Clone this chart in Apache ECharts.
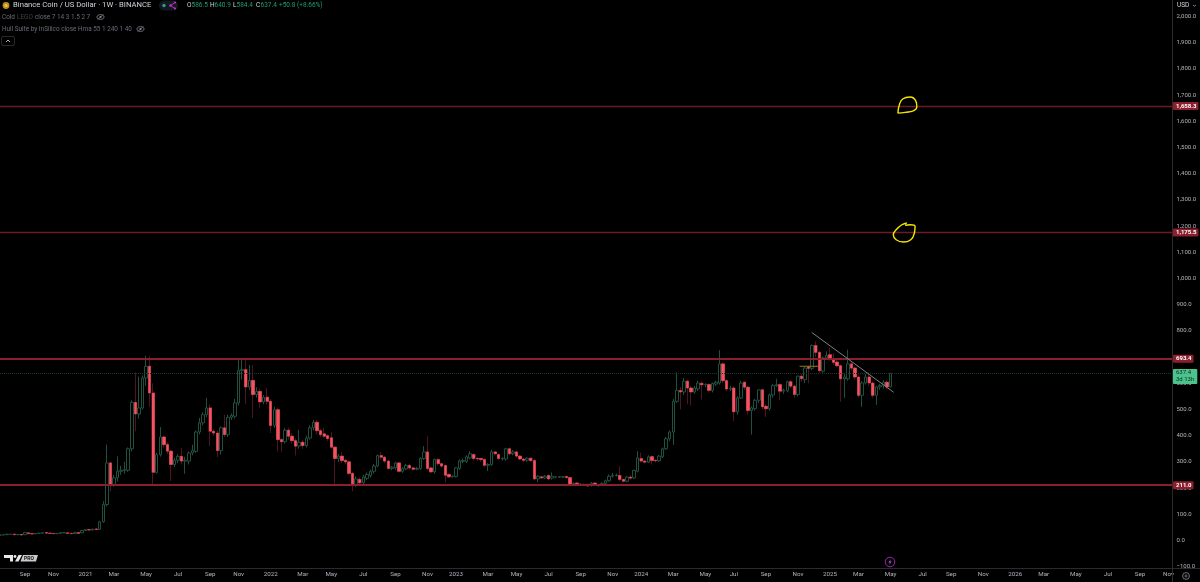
<!DOCTYPE html>
<html><head><meta charset="utf-8">
<style>html,body{margin:0;padding:0;background:#000}#c{width:1200px;height:582px}</style>
<script src="https://cdn.jsdelivr.net/npm/echarts@6/dist/echarts.min.js"></script>
</head><body><div id="c"></div>
<script>
const firstWeek = '2020-07-20';
const weekCount = 330;
const opens = [
20,
21,22,23,24,22,23,22,29,26,25,
27,28,30,28,27,26,27,29,29,27,
26,30,29,38,41,40,44,42,71,137,
296,214,239,264,267,268,350,527,483,506,
620,665,563,260,327,395,366,341,290,306,
321,303,303,334,340,414,449,480,506,417,
410,343,430,404,470,474,525,649,652,586,
611,557,569,529,547,531,439,499,385,377,
421,398,381,360,375,362,391,430,451,419,
407,400,392,356,313,322,306,300,256,214,
233,220,237,248,264,284,324,318,303,275,
277,296,264,273,286,277,272,275,313,338,
277,262,309,293,286,252,243,244,275,302,
302,315,328,313,313,309,287,290,338,328,
311,311,350,331,338,322,311,306,314,305,
235,243,238,248,238,242,242,242,244,240,
215,219,214,213,214,210,219,209,211,218,
228,245,248,248,233,226,242,239,264,313,
303,299,320,306,304,319,350,388,414,531,
572,567,608,582,567,578,600,594,595,573,
597,601,674,610,578,582,491,544,604,585,
496,503,535,575,512,503,555,591,595,570,
571,606,589,557,627,614,662,657,744,718,
646,697,709,693,681,667,617,617,674,658,
624,554,601,624,601,554,586,592,604,586.5];
const closes = [
21,
22,24,24,22,23,21,31,26,25,27,
28,30,28,27,26,27,30,30,27,26,
31,27,38,41,40,43,42,71,137,296,
214,239,264,268,270,350,527,483,506,620,
665,563,260,327,395,366,341,290,306,321,
303,306,334,343,414,449,480,506,417,410,
343,430,404,470,477,525,649,652,586,611,
557,569,529,547,531,439,499,385,377,421,
398,381,360,375,362,391,430,451,419,404,
398,389,356,313,322,305,300,256,214,235,
220,243,252,264,284,324,318,303,275,280,
296,264,274,286,277,272,275,313,338,275,
262,309,293,284,249,243,245,277,304,305,
319,331,313,311,309,287,290,338,331,313,
313,350,331,338,322,311,306,314,305,235,
245,239,245,235,245,243,243,243,240,214,
218,215,215,214,208,219,212,211,218,228,
245,248,250,233,226,242,238,267,315,303,
299,319,305,304,322,350,388,414,531,573,
567,608,582,567,582,601,594,595,573,599,
604,674,610,578,581,491,544,601,585,496,
506,535,575,510,503,555,591,595,570,574,
606,589,557,627,618,658,657,744,718,648,
697,706,693,680,667,617,624,674,658,624,
554,601,624,601,554,586,592,604,586,637.4];
const lows = [
19,
20,21,22,21,21,20,21,25,24,24,
26,27,27,26,25,25,26,28,26,25,
25,26,28,36,38,38,40,41,68,130,
188,205,225,250,255,262,340,417,465,500,
590,510,214,255,320,355,330,227,280,295,
290,255,290,325,335,405,440,470,360,400,
318,328,395,395,460,465,515,615,520,575,
468,545,505,520,520,410,430,340,340,370,
385,370,324,350,350,355,385,420,405,395,
390,380,350,214,300,295,290,250,188,205,
212,212,230,240,255,280,310,295,270,268,
270,258,258,268,270,266,268,270,308,268,
256,255,285,278,222,238,240,240,270,295,
296,310,305,305,300,280,265,285,325,308,
305,305,325,325,315,305,300,300,300,230,
222,235,234,230,232,238,238,238,236,210,
210,211,211,210,205,206,208,205,208,214,
224,240,244,228,222,222,234,235,260,298,
294,295,290,298,300,315,345,380,365,525,
500,555,520,515,560,570,538,585,565,565,
590,595,600,570,570,455,480,540,575,480,
404,495,525,500,472,495,545,585,535,560,
565,580,545,550,605,600,600,650,700,640,
640,690,685,670,660,530,545,610,650,615,
545,510,595,590,545,518,575,580,575,584.4];
const highs = [
22,
23,25,25,25,24,24,32,31,27,28,
29,31,31,29,28,28,31,31,30,28,
32,31,39,44,44,45,46,75,150,366,
300,250,321,285,300,355,535,642,625,630,
705,703,600,335,433,400,375,345,315,330,
353,320,340,365,420,468,490,545,520,425,
420,435,480,480,485,540,690,693,693,670,
670,585,580,555,582,540,510,505,392,430,
430,410,390,423,385,400,440,460,460,425,
430,405,413,360,330,337,312,305,262,245,
240,250,260,270,292,328,337,322,308,285,
300,300,280,292,292,282,280,318,360,398,
282,313,314,297,290,256,249,280,310,312,
325,341,333,318,316,313,295,347,342,332,
318,354,355,345,342,326,315,318,318,310,
250,247,250,252,260,246,246,246,247,244,
222,223,218,217,217,223,223,214,222,232,
252,258,255,282,236,246,248,270,341,335,
308,325,325,310,326,355,395,420,540,642,
585,620,612,590,590,610,605,600,600,603,
610,726,680,615,590,590,550,610,608,590,
512,540,578,580,520,560,598,617,600,580,
610,612,595,630,635,662,668,748,760,725,
702,722,735,715,690,672,635,728,680,665,
630,608,635,642,607,590,598,612,610,640.9];

const tickDates = ['2020-09-07','2020-11-02','2021-01-04','2021-03-01','2021-05-03','2021-07-05','2021-09-06','2021-11-01',
'2022-01-03','2022-03-07','2022-05-02','2022-07-04','2022-09-05','2022-11-07','2023-01-02','2023-03-06','2023-05-01','2023-07-03','2023-09-04','2023-11-06',
'2024-01-01','2024-03-04','2024-05-06','2024-07-01','2024-09-02','2024-11-04','2025-01-06','2025-03-03','2025-05-05','2025-07-07','2025-09-01','2025-11-03',
'2026-01-05','2026-03-02','2026-05-04','2026-07-06','2026-09-07','2026-11-02'];
const tickLabels = ['Sep','Nov','2021','Mar','May','Jul','Sep','Nov',
'2022','Mar','May','Jul','Sep','Nov','2023','Mar','May','Jul','Sep','Nov',
'2024','Mar','May','Jul','Sep','Nov','2025','Mar','May','Jul','Sep','Nov',
'2026','Mar','May','Jul','Sep','Nov'];
const priceTicks = [-100,0,100,200,300,400,500,600,700,800,900,1000,1100,1200,1300,1400,1500,1600,1700,1800,1900,2000];
const levels = [1658.3,1175.5,693.4,211.0];
const lastClose = 637.4;
const countdown = '3d 13h';

// annotations: [week position, price]
const trendLine = [[228,794],[251,565.6]];
const legoSegment = [[224.6,665],[229.9,665]];
const circleUpper = [[252.2,1631],[252.6,1663],[253.6,1686],[255.6,1693],[257.2,1678],[257.5,1656],[256.5,1640],[254.2,1634],[252.2,1631]];
const circleLower = [[254.7,1212],[253.3,1205],[251.7,1186],[250.9,1167],[251.7,1148],[253.7,1139],[255.8,1148],[256.8,1173],[257,1199],[255.6,1205],[254.2,1203]];

const weeks = [];
for (let i=0;i<weekCount;i++){
  const d=new Date(Date.parse(firstWeek+'T00:00:00Z')+i*7*864e5);
  weeks.push(d.toISOString().slice(0,10));
}
const tickMap = {};
tickDates.forEach((d,i)=>tickMap[d]=tickLabels[i]);

const candles = opens.map((o,i)=>[o,closes[i],lows[i],highs[i]]);
const downBodies = opens.map((o,i)=> closes[i]<o ? [o,closes[i],closes[i],o] : '-');

const FONT = 'Roboto, "Liberation Sans", sans-serif';
const bright='#d1d4dc', dim='#6a6d78', green='#1f9d78';
function txt(x,y,t,fill,size,weight){
  return {type:'text',silent:true,z:50,style:{x,y,text:t,fill,font:(weight||'normal')+' '+(size||6.5)+'px '+FONT,textVerticalAlign:'middle'}};
}
function rule(x1,y1,x2,y2,c){return {type:'line',silent:true,z:40,shape:{x1,y1,x2,y2},style:{stroke:c||'#2b2b2e',lineWidth:1}};}
function eye(cx,cy){return [
  {type:'ellipse',silent:true,z:50,shape:{cx,cy,rx:3.6,ry:2.4},style:{fill:'none',stroke:'#8a8d96',lineWidth:.8}},
  {type:'circle',silent:true,z:50,shape:{cx,cy,r:1.1},style:{fill:'#8a8d96'}},
  {type:'line',silent:true,z:50,shape:{x1:cx-3,y1:cy+2.6,x2:cx+3,y2:cy-2.6},style:{stroke:'#8a8d96',lineWidth:.6}}
];}

const graphics = [
  rule(1172.5,0,1172.5,582), rule(0,568.5,1200,568.5),
  {type:'circle',silent:true,z:50,shape:{cx:6,cy:5.5,r:3.4},style:{fill:'#b8901a'}},
  {type:'circle',silent:true,z:51,shape:{cx:6,cy:5.5,r:1.6},style:{fill:'#f0c040'}},
  txt(13,5.5,'Binance Coin / US Dollar · 1W · BINANCE',bright,7.7),
  {type:'rect',silent:true,z:49,shape:{x:159,y:0.5,width:19,height:10,r:5},style:{fill:'#14191f'}},
  {type:'circle',silent:true,z:50,shape:{cx:164,cy:5.5,r:1.7},style:{fill:'#1fa58a'}},
  {type:'polyline',silent:true,z:50,shape:{points:[[175,2.5],[170.5,5.5],[175,8.5]]},style:{stroke:'#c030d8',fill:'none',lineWidth:.9}},
  {type:'circle',silent:true,z:50,shape:{cx:170.5,cy:5.5,r:1.3},style:{fill:'#c030d8'}},
  {type:'circle',silent:true,z:50,shape:{cx:175,cy:2.5,r:1.1},style:{fill:'#c030d8'}},
  {type:'circle',silent:true,z:50,shape:{cx:175,cy:8.5,r:1.1},style:{fill:'#c030d8'}},
  txt(187,5.5,'O',bright), txt(191.5,5.5,'586.5',green),
  txt(210,5.5,'H',bright), txt(214.5,5.5,'640.9',green),
  txt(233,5.5,'L',bright), txt(236.5,5.5,'584.4',green),
  txt(256,5.5,'C',bright), txt(260.5,5.5,'637.4',green),
  txt(279,5.5,'+50.8 (+8.66%)',green),
  txt(2,17,'Cold',dim,6.4), txt(17,17,'LEGO','#3f4148',6.4), txt(35,17,'close 7 14 3 1.5 2 7',dim,6.4),
  ...eye(100.5,17),
  txt(2,29,'Hull Suite by InSilico close Hma 55 1 240 1 40',dim,6.4),
  ...eye(140.5,29),
  {type:'rect',silent:true,z:50,shape:{x:1.5,y:36.5,width:13,height:9,r:1.5},style:{fill:'none',stroke:'#2a2a2e',lineWidth:1}},
  {type:'polyline',silent:true,z:50,shape:{points:[[6,42],[8,40],[10,42]]},style:{stroke:'#b2b5be',fill:'none',lineWidth:1}},
  txt(1177,5.5,'USD',bright,6.5),
  {type:'polyline',silent:true,z:50,shape:{points:[[1193,5],[1194.5,6.2],[1196,5]]},style:{stroke:'#9a9da6',fill:'none',lineWidth:.8}},
  // TV logo
  {type:'polygon',silent:true,z:50,shape:{points:[[4,555],[13,555],[13,561.5],[10,561.5],[10,558],[4,558]]},style:{fill:'#e8e8ea'}},
  {type:'circle',silent:true,z:50,shape:{cx:15,cy:556.5,r:1.4},style:{fill:'#e8e8ea'}},
  {type:'polygon',silent:true,z:50,shape:{points:[[18.5,555],[22,555],[18.5,561.5],[15,561.5]]},style:{fill:'#e8e8ea'}},
  {type:'polygon',silent:true,z:50,shape:{points:[[23,555],[38,555],[36,561.5],[20.5,561.5]]},style:{fill:'#c8c9cc'}},
  {type:'text',silent:true,z:51,style:{x:29,y:558.4,text:'PRO',fill:'#111',font:'bold 5px '+FONT,textAlign:'center',textVerticalAlign:'middle'}},
  // lightning badge
  {type:'circle',silent:true,z:50,shape:{cx:890,cy:562,r:4.8},style:{fill:'none',stroke:'#9c27b0',lineWidth:1}},
  {type:'polygon',silent:true,z:50,shape:{points:[[890.8,559],[888.5,562.5],[889.9,562.5],[889.2,565],[891.5,561.5],[890.1,561.5]]},style:{fill:'#b45cc8'}},
  // settings
  {type:'circle',silent:true,z:50,shape:{cx:1186,cy:576,r:3.4},style:{fill:'none',stroke:'#8a8d96',lineWidth:.8}},
  {type:'circle',silent:true,z:50,shape:{cx:1186,cy:576,r:1.1},style:{fill:'none',stroke:'#8a8d96',lineWidth:.7}}
];

const levelStyle = (v,strong)=>({
  yAxis:v,
  lineStyle:{color:strong?'#8c1f2d':'#6e1a25',width:strong?2:1.3,type:'solid'},
  label:{show:true,position:'end',distance:1,formatter:v.toLocaleString('en-US',{minimumFractionDigits:1,maximumFractionDigits:1}),
    backgroundColor:'#8c1f2d',color:'#ffffff',fontSize:6,fontWeight:'bold',fontFamily:FONT,padding:[1,2,1,3],borderRadius:1}
});

const option = {
  backgroundColor:'#000000',
  animation:false,
  tooltip:{show:false},
  grid:{left:0,top:0,width:1172,height:568.5,containLabel:false},
  xAxis:[
    {type:'category',data:weeks,boundaryGap:false,
      axisLine:{show:false},axisTick:{show:false},splitLine:{show:false},
      axisLabel:{interval:(i,v)=>v in tickMap,formatter:v=>tickMap[v]||'',color:'#b2b5be',fontSize:6.2,fontFamily:FONT,margin:3,hideOverlap:false}},
    {type:'value',min:0.13,max:weekCount-0.87,show:false}
  ],
  yAxis:{type:'value',position:'right',min:-107,max:2063,scale:false,
    axisLine:{show:false},axisTick:{show:false},splitLine:{show:false},
    axisLabel:{customValues:priceTicks,inside:false,margin:4.5,align:'left',color:'#b2b5be',fontSize:6,fontFamily:FONT,padding:[5,0,0,0],
      formatter:v=>(v<0?'−':'')+Math.abs(v).toLocaleString('en-US',{minimumFractionDigits:1,maximumFractionDigits:1})}
  },
  graphic:graphics,
  series:[
    {type:'candlestick',name:'BNB wick',data:candles,barWidth:3,z:2,silent:true,
      itemStyle:{color:'#000000',color0:'#f7525f',borderColor:'#205040',borderColor0:'#4d1520',borderWidth:1}},
    {type:'candlestick',name:'BNB down body',data:downBodies,barWidth:2.8,z:3,silent:true,
      itemStyle:{color:'#000000',color0:'#f7525f',borderColor:'#205040',borderColor0:'#f7525f',borderWidth:.5}},
    {type:'line',name:'levels',xAxisIndex:1,data:[],z:6,silent:true,symbol:'none',
      markLine:{silent:true,symbol:'none',animation:false,data:[
        levelStyle(levels[0],false),levelStyle(levels[1],false),levelStyle(levels[2],true),levelStyle(levels[3],true),
        {yAxis:lastClose,lineStyle:{color:'#17392d',width:1,type:'dotted'},
         label:{show:true,position:'end',distance:1,offset:[0,3],formatter:lastClose.toFixed(1)+'\n'+countdown,
           backgroundColor:'#4cc38c',color:'#0c2a20',fontSize:6,fontFamily:FONT,lineHeight:7,padding:[1,3,0,3],borderRadius:1}}
      ]}},
    {type:'line',name:'trend',xAxisIndex:1,data:trendLine,z:7,silent:true,symbol:'none',lineStyle:{color:'#7c808c',width:1}},
    {type:'line',name:'lego',xAxisIndex:1,data:legoSegment,z:7,silent:true,symbol:'none',lineStyle:{color:'#8f7d1f',width:1}},
    {type:'line',name:'circle upper',xAxisIndex:1,data:circleUpper,smooth:.5,z:8,silent:true,symbol:'none',lineStyle:{color:'#f4e800',width:1.4}},
    {type:'line',name:'circle lower',xAxisIndex:1,data:circleLower,smooth:.5,z:8,silent:true,symbol:'none',lineStyle:{color:'#f4e800',width:1.4}}
  ]
};
echarts.init(document.getElementById('c'),null,{renderer:'canvas'}).setOption(option);
</script></body></html>
